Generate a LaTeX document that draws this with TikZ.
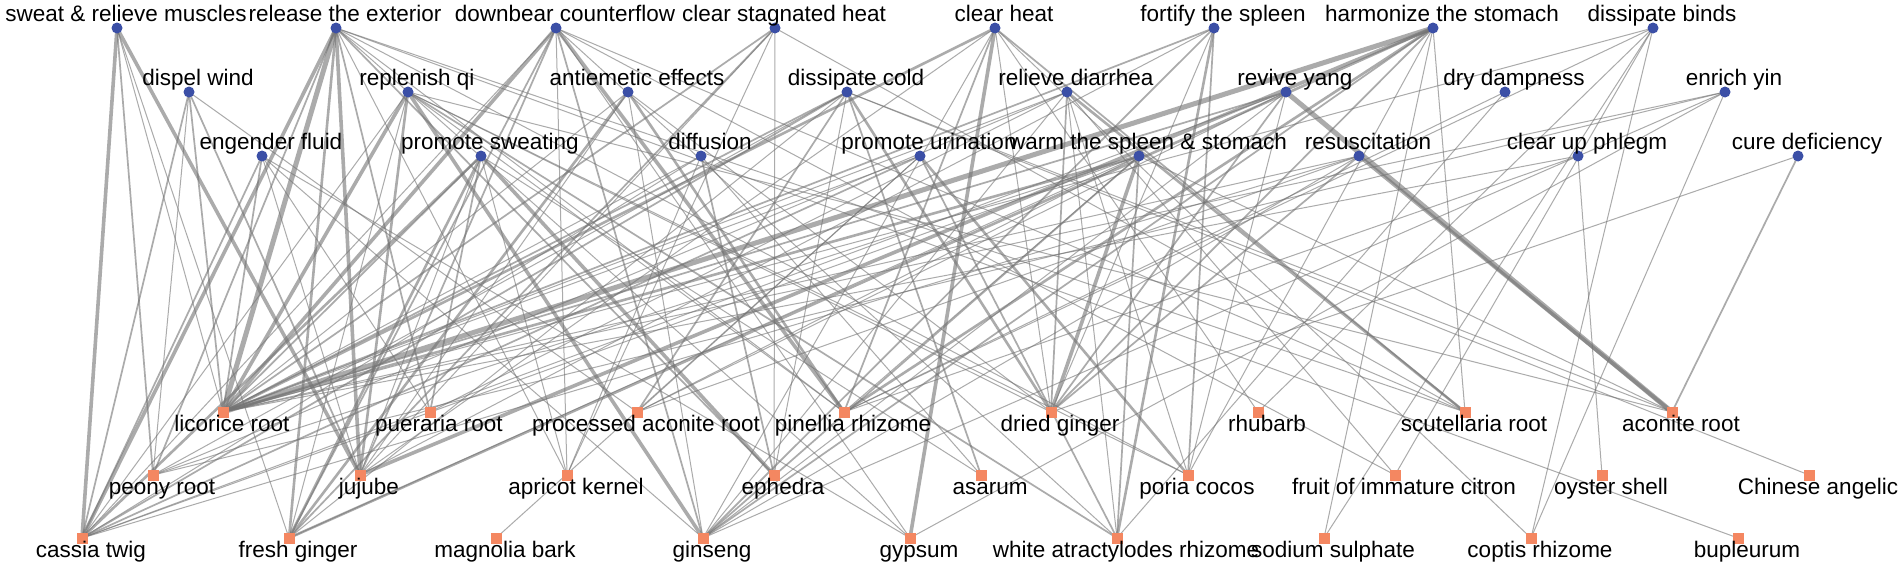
\documentclass[tikz,border=0pt]{standalone}
\usepackage{fontspec}
\setmainfont{Liberation Sans}
\pgfdeclarelayer{bg}
\pgfsetlayers{bg,main}
\definecolor{nblue}{RGB}{59,79,166}
\definecolor{norange}{RGB}{244,135,97}
\definecolor{egray}{RGB}{115,115,115}
\newcommand\effnode[4]{\node[eff] (#1) at (#2,#3) {};\node[lab] (#1-t) at (#2+9,#3-6.5) {#4};}
\newcommand\herbnode[4]{\node[herb] (#1) at (#2,#3) {};\node[lab] (#1-t) at (#2+9,#3+19) {#4};}
\begin{document}
\begin{tikzpicture}[x=1pt,y=-1pt,
  eff/.style={circle,fill=nblue,inner sep=0pt,minimum size=11pt},
  herb/.style={rectangle,fill=norange,inner sep=0pt,minimum size=11pt},
  lab/.style={anchor=base,inner sep=0pt,font=\fontsize{22.5}{27}\selectfont},
  edge/.style={draw=egray,draw opacity=0.6},
  ew1/.style={edge,line width=1pt},
  ew2/.style={edge,line width=1.7pt},
  ew3/.style={edge,line width=2.6pt},
  ew4/.style={edge,line width=3.6pt},
  ew5/.style={edge,line width=5pt}]
\useasboundingbox (0,0) rectangle (1900,568);
% effects, row 1
\effnode{sweat}{117}{28}{sweat \& relieve muscles}
\effnode{relext}{336}{28}{release the exterior}
\effnode{downbear}{556}{28}{downbear counterflow}
\effnode{clrstag}{775}{28}{clear stagnated heat}
\effnode{clrheat}{995}{28}{clear heat}
\effnode{fortify}{1214}{28}{fortify the spleen}
\effnode{harmon}{1433}{28}{harmonize the stomach}
\effnode{dissbind}{1653}{28}{dissipate binds}
% row 2
\effnode{dispel}{189}{92}{dispel wind}
\effnode{repqi}{408}{92}{replenish qi}
\effnode{antiem}{628}{92}{antiemetic effects}
\effnode{disscold}{847}{92}{dissipate cold}
\effnode{reldiarr}{1067}{92}{relieve diarrhea}
\effnode{revyang}{1286}{92}{revive yang}
\effnode{drydamp}{1505}{92}{dry dampness}
\effnode{enryin}{1725}{92}{enrich yin}
% row 3
\effnode{engfluid}{262}{156}{engender fluid}
\effnode{promsweat}{481}{156}{promote sweating}
\effnode{diffusion}{701}{156}{diffusion}
\effnode{promurin}{920}{156}{promote urination}
\effnode{warmspl}{1139}{156}{warm the spleen \& stomach}
\effnode{resusc}{1359}{156}{resuscitation}
\effnode{clrphlegm}{1578}{156}{clear up phlegm}
\effnode{curedef}{1798}{156}{cure deficiency}
% herbs, row 1
\herbnode{licorice}{223}{412}{licorice root}
\herbnode{pueraria}{430}{412}{pueraria root}
\herbnode{procacon}{637}{412}{processed aconite root}
\herbnode{pinellia}{844}{412}{pinellia rhizome}
\herbnode{drginger}{1051}{412}{dried ginger}
\herbnode{rhubarb}{1258}{412}{rhubarb}
\herbnode{scutell}{1465}{412}{scutellaria root}
\herbnode{aconite}{1672}{412}{aconite root}
% row 2
\herbnode{peony}{153}{475}{peony root}
\herbnode{jujube}{360}{475}{jujube}
\herbnode{apricot}{567}{475}{apricot kernel}
\herbnode{ephedra}{774}{475}{ephedra}
\herbnode{asarum}{981}{475}{asarum}
\herbnode{poria}{1188}{475}{poria cocos}
\herbnode{citron}{1395}{475}{fruit of immature citron}
\herbnode{oyster}{1602}{475}{oyster shell}
\herbnode{angelic}{1809}{475}{Chinese angelic}
% row 3
\herbnode{cassia}{82}{538}{cassia twig}
\herbnode{frginger}{289}{538}{fresh ginger}
\herbnode{magnolia}{496}{538}{magnolia bark}
\herbnode{ginseng}{703}{538}{ginseng}
\herbnode{gypsum}{910}{538}{gypsum}
\herbnode{whiteatr}{1117}{538}{white atractylodes rhizome}
\herbnode{sodium}{1324}{538}{sodium sulphate}
\herbnode{coptis}{1531}{538}{coptis rhizome}
\herbnode{bupleurum}{1738}{538}{bupleurum}
\begin{pgfonlayer}{bg}
\fill[white] (0,0) rectangle (1900,568);
\foreach \a/\b/\w in {
 sweat/cassia/4, sweat/peony/2, sweat/jujube/4, sweat/licorice/1, sweat/frginger/1,
 relext/licorice/5, relext/jujube/4, relext/cassia/4, relext/frginger/3, relext/peony/2, relext/ephedra/2, relext/pueraria/2, relext/apricot/1, relext/bupleurum/1, relext/scutell/1, relext/pinellia/1, relext/gypsum/1, relext/poria/1,
 downbear/licorice/4, downbear/pinellia/4, downbear/ginseng/2, downbear/jujube/2, downbear/frginger/2, downbear/apricot/1, downbear/scutell/1, downbear/citron/1, downbear/cassia/1, downbear/gypsum/1, downbear/whiteatr/1,
 clrstag/licorice/2, clrstag/frginger/2, clrstag/jujube/1, clrstag/apricot/1, clrstag/ephedra/1, clrstag/scutell/1,
 clrheat/gypsum/4, clrheat/licorice/3, clrheat/scutell/2, clrheat/pinellia/2, clrheat/coptis/1, clrheat/rhubarb/1, clrheat/ginseng/1, clrheat/drginger/1, clrheat/jujube/1,
 fortify/whiteatr/3, fortify/poria/2, fortify/licorice/2, fortify/ginseng/2, fortify/drginger/1, fortify/jujube/1,
 harmon/licorice/5, harmon/jujube/4, harmon/frginger/3, harmon/pinellia/3, harmon/ginseng/2, harmon/drginger/2, harmon/scutell/1, harmon/sodium/1, harmon/poria/1,
 dissbind/rhubarb/1, dissbind/sodium/1, dissbind/pinellia/1, dissbind/licorice/1, dissbind/coptis/1, dissbind/citron/1,
 dispel/cassia/2, dispel/peony/1, dispel/licorice/2, dispel/jujube/2, dispel/procacon/1,
 repqi/licorice/4, repqi/ginseng/4, repqi/jujube/3, repqi/whiteatr/2, repqi/poria/1, repqi/drginger/1, repqi/aconite/1, repqi/frginger/1, repqi/cassia/1, repqi/pinellia/1,
 antiem/frginger/3, antiem/pinellia/3, antiem/ginseng/1, antiem/jujube/1, antiem/licorice/1, antiem/drginger/1,
 disscold/drginger/3, disscold/asarum/2, disscold/licorice/2, disscold/cassia/2, disscold/frginger/1, disscold/aconite/1, disscold/procacon/2, disscold/ephedra/1, disscold/angelic/1, disscold/peony/1,
 reldiarr/scutell/3, reldiarr/drginger/2, reldiarr/licorice/1, reldiarr/ginseng/1, reldiarr/whiteatr/1, reldiarr/poria/1, reldiarr/citron/1, reldiarr/pueraria/1, reldiarr/peony/1,
 revyang/aconite/5, revyang/drginger/2, revyang/licorice/2, revyang/procacon/1, revyang/poria/1, revyang/ginseng/1, revyang/cassia/1,
 drydamp/whiteatr/1, drydamp/pinellia/1,
 enryin/peony/1, enryin/licorice/1, enryin/coptis/1, enryin/ginseng/1, enryin/gypsum/1,
 engfluid/cassia/2, engfluid/licorice/2, engfluid/jujube/1, engfluid/pueraria/1, engfluid/ginseng/1, engfluid/gypsum/1,
 promsweat/ephedra/4, promsweat/cassia/3, promsweat/frginger/3, promsweat/licorice/2, promsweat/pueraria/2, promsweat/apricot/1, promsweat/jujube/1, promsweat/asarum/1,
 diffusion/ephedra/2, diffusion/apricot/1, diffusion/licorice/1, diffusion/asarum/1, diffusion/cassia/1,
 promurin/poria/3, promurin/whiteatr/2, promurin/cassia/2, promurin/licorice/1, promurin/magnolia/1, promurin/procacon/1,
 warmspl/drginger/4, warmspl/licorice/3, warmspl/ginseng/2, warmspl/whiteatr/2, warmspl/aconite/1, warmspl/procacon/1, warmspl/pinellia/1, warmspl/cassia/1, warmspl/frginger/1, warmspl/peony/1,
 resusc/aconite/4, resusc/drginger/2, resusc/licorice/1, resusc/procacon/1, resusc/ginseng/1, resusc/cassia/1,
 clrphlegm/oyster/1, clrphlegm/pinellia/1, clrphlegm/licorice/1,
 curedef/aconite/2, curedef/drginger/1}
 {\draw[ew\w] (\a.center) -- (\b.center);}
\end{pgfonlayer}
\end{tikzpicture}
\end{document}
